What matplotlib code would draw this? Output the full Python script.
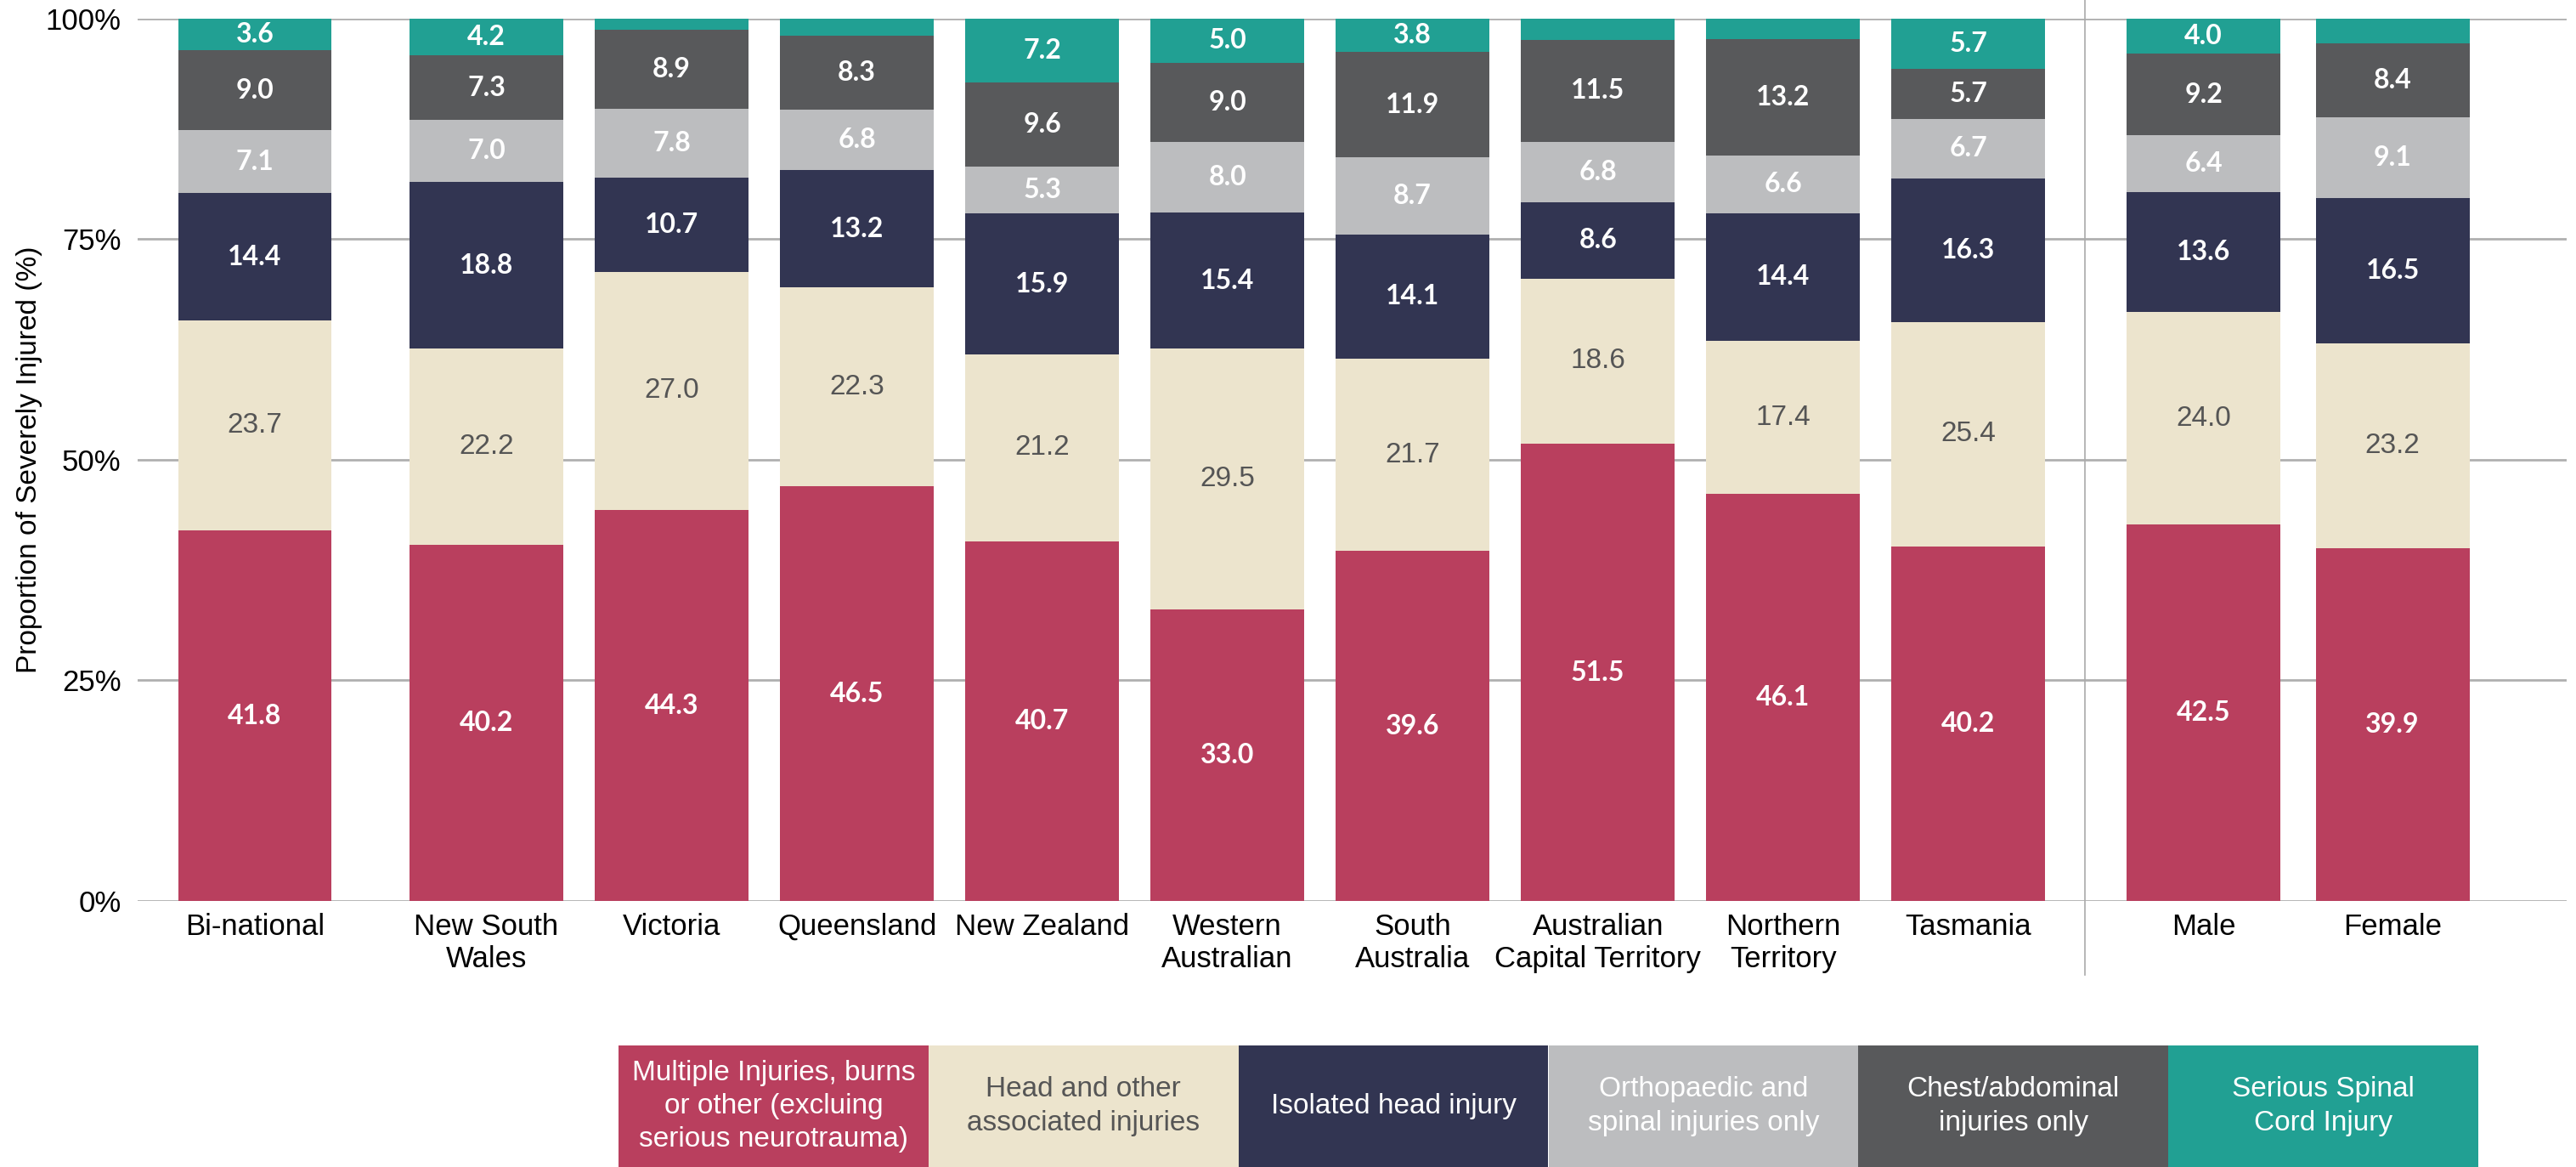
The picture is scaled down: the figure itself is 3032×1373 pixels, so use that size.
import numpy as np
import matplotlib.pyplot as plt

# categories and values (%)
regions = ['Bi-national', 'New South\nWales', 'Victoria', 'Queensland', 'New Zealand',
           'Western\nAustralian', 'South\nAustralia', 'Australian\nCapital Territory',
           'Northern\nTerritory', 'Tasmania', 'Male', 'Female']
multiple = [41.8, 40.2, 44.3, 46.5, 40.7, 33.0, 39.6, 51.5, 46.1, 40.2, 42.5, 39.9]
head_other = [23.7, 22.2, 27.0, 22.3, 21.2, 29.5, 21.7, 18.6, 17.4, 25.4, 24.0, 23.2]
isolated_head = [14.4, 18.8, 10.7, 13.2, 15.9, 15.4, 14.1, 8.6, 14.4, 16.3, 13.6, 16.5]
ortho = [7.1, 7.0, 7.8, 6.8, 5.3, 8.0, 8.7, 6.8, 6.6, 6.7, 6.4, 9.1]
chest = [9.0, 7.3, 8.9, 8.3, 9.6, 9.0, 11.9, 11.5, 13.2, 5.7, 9.2, 8.4]
spinal = [3.6, 4.2, 1.3, 1.9, 7.2, 5.0, 3.8, 2.4, 2.3, 5.7, 4.0, 2.8]

series = [multiple, head_other, isolated_head, ortho, chest, spinal]
names = ['Multiple Injuries, burns\nor other (excluing\nserious neurotrauma)',
         'Head and other\nassociated injuries',
         'Isolated head injury',
         'Orthopaedic and\nspinal injuries only',
         'Chest/abdominal\ninjuries only',
         'Serious Spinal\nCord Injury']
colors = ['#B93F5E', '#ECE4CD', '#323552', '#BCBDBF', '#58595B', '#21A093']
txt_colors = ['white', '#555555', 'white', 'white', 'white', 'white']

# bar positions (groups separated by gaps)
xpos = np.array([0, 1.25, 2.25, 3.25, 4.25, 5.25, 6.25, 7.25, 8.25, 9.25, 10.52, 11.54])

# 100% stacked: scale each bar so it fills the axis
totals = np.sum(series, axis=0)

fig = plt.figure(figsize=(30.32, 13.73), dpi=100)
ax = fig.add_axes([162/3032, 1 - 1060/1373, (3021-162)/3032, (1060-21.7)/1373])

bottom = np.zeros(len(xpos))
for vals, c, tc in zip(series, colors, txt_colors):
    vals = np.array(vals)
    h = vals / totals * 100
    ax.bar(xpos, h, bottom=bottom, width=0.83, color=c, zorder=3)
    for x, b, hh, v in zip(xpos, bottom, h, vals):
        if v >= 3:
            if tc == 'white':
                ax.text(x, b + hh/2, f'{v:.1f}', ha='center', va='center', color=tc,
                        fontsize=23, family='Lato', fontweight='bold', zorder=4)
            else:
                ax.text(x, b + hh/2, f'{v:.1f}', ha='center', va='center', color=tc,
                        fontsize=24, family='Liberation Sans', zorder=4)
    bottom += h

ax.set_xlim(-0.633, 12.48)
ax.set_ylim(0, 100)
ax.set_yticks([0, 25, 50, 75, 100])
ax.set_yticklabels(['0%', '25%', '50%', '75%', '100%'], fontsize=25, family='Liberation Sans')
ax.set_xticks(xpos)
ax.set_xticklabels(regions, fontsize=25, family='Liberation Sans', linespacing=1.2)
ax.tick_params(axis='both', length=0)
ax.tick_params(axis='y', pad=14)
ax.tick_params(axis='x', pad=10)
ax.grid(axis='y', color='#B0B0B0', lw=2, zorder=0)
for s in ax.spines.values():
    s.set_visible(False)
ax.set_ylabel('Proportion of Severely Injured (%)', fontsize=24, family='Liberation Sans')
ax.yaxis.set_label_coords(-0.039, 0.5)

# separator between regions and sex
ax.axvline(9.88, ymin=-0.084, ymax=1.03, color='#AAAAAA', lw=1.2, clip_on=False)

# legend as coloured blocks
leg = fig.add_axes([728/3032, 0, (2917-728)/3032, 143/1373])
leg.bar(np.arange(6), 1, width=1, align='edge', color=colors)
for i, (n, tc) in enumerate(zip(names, txt_colors)):
    leg.text(i + 0.5, 0.5, n, ha='center', va='center', color=tc, fontsize=24,
             family='Liberation Sans', linespacing=1.35)
leg.set_xlim(0, 6)
leg.set_ylim(0, 1)
leg.axis('off')

fig.savefig('out.png', dpi=100)
